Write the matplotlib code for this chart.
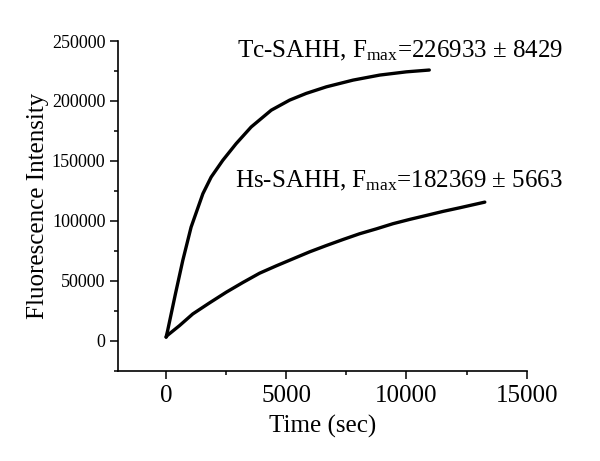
import matplotlib
matplotlib.use("Agg")
import matplotlib.pyplot as plt
from matplotlib.ticker import MultipleLocator

plt.rcParams['font.family'] = ['Liberation Serif', 'DejaVu Serif']
plt.rcParams['mathtext.fontset'] = 'custom'
plt.rcParams['mathtext.rm'] = 'Liberation Serif'
plt.rcParams['mathtext.it'] = 'Liberation Serif:italic'

# Tc-SAHH trace
tc_time = [0, 60, 388, 694, 1040, 1530, 1875, 2360, 2915, 3540, 4375, 5140,
           5830, 6670, 7780, 8890, 10000, 10950]
tc_fluor = [3000, 8000, 39000, 66900, 94700, 122600, 136500, 150500, 164400,
            178300, 192300, 200700, 206300, 211800, 217400, 221600, 224300, 225800]

# Hs-SAHH trace
hs_time = [0, 60, 554, 1110, 1805, 2500, 3190, 3890, 4580, 5280, 5970, 6670,
           7360, 8050, 8750, 9440, 10140, 10830, 11530, 12220, 13260]
hs_fluor = [3000, 4500, 12500, 22300, 31500, 40400, 48500, 56300, 62400, 68300,
            74100, 79400, 84400, 89200, 93300, 97600, 101200, 104500, 107900,
            110900, 115600]

tc_label = "Tc-SAHH, F$_{\\mathrm{max}}$=226933 \u00b1 8429"
hs_label = "Hs-SAHH, F$_{\\mathrm{max}}$=182369 \u00b1 5663"

fig = plt.figure(figsize=(6.0, 4.61), dpi=100)
ax = fig.add_axes([0.1967, 0.196, 0.681, 0.715])

ax.plot(tc_time, tc_fluor, color='black', lw=2.4, solid_capstyle='round',
        solid_joinstyle='round')
ax.plot(hs_time, hs_fluor, color='black', lw=2.4, solid_capstyle='round',
        solid_joinstyle='round')

ax.text(2930, 236600, tc_label, fontsize=18, ha='left', va='baseline')
ax.text(2850, 127900, hs_label, fontsize=18, ha='left', va='baseline')

ax.set_xlim(-2000, 15000)
ax.set_ylim(-25000, 250000)
ax.xaxis.set_major_locator(MultipleLocator(5000))
ax.xaxis.set_minor_locator(MultipleLocator(2500))
ax.yaxis.set_major_locator(MultipleLocator(50000))
ax.yaxis.set_minor_locator(MultipleLocator(25000))

for side in ['top', 'right']:
    ax.spines[side].set_visible(False)
for side in ['left', 'bottom']:
    ax.spines[side].set_linewidth(1.2)

ax.tick_params(axis='both', which='major', direction='out', length=6, width=1.1)
ax.tick_params(axis='both', which='minor', direction='out', length=3, width=1.1)
ax.tick_params(axis='x', labelsize=18, pad=4)
ax.tick_params(axis='y', labelsize=13, pad=3)

ax.set_xlabel("Time (sec)", fontsize=18, labelpad=6)
ax.set_ylabel("Fluorescence Intensity", fontsize=18, labelpad=2)

fig.savefig("out.png", dpi=100)
